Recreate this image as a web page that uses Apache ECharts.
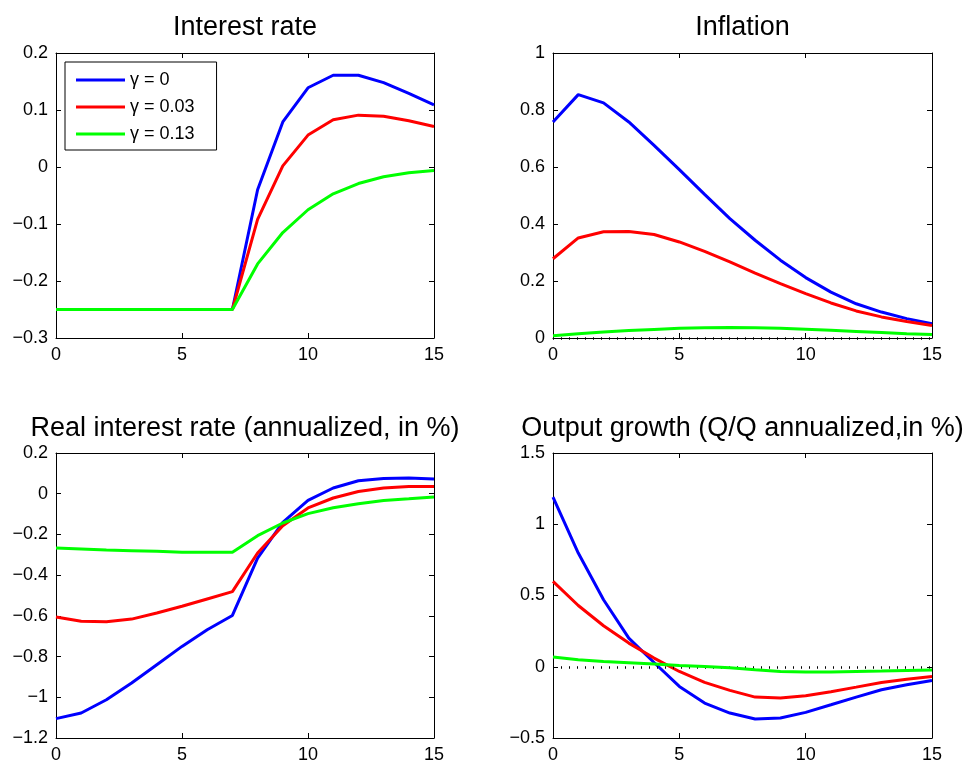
<!DOCTYPE html>
<html>
<head>
<meta charset="utf-8">
<script src="https://cdn.jsdelivr.net/npm/echarts@6/dist/echarts.min.js"></script>
<style>
html,body{margin:0;padding:0;background:#fff;}
#chart{width:969px;height:765px;}
</style>
</head>
<body>
<div id="chart"></div>
<script>
// ---- Data ----
const periods = [0,1,2,3,4,5,6,7,8,9,10,11,12,13,14,15];
const seriesNames = ['\u03B3 = 0', '\u03B3 = 0.03', '\u03B3 = 0.13'];
const seriesColors = ['#0000ff', '#ff0000', '#00ff00'];
const panelTitles = ['Interest rate', 'Inflation', 'Real interest rate (annualized, in %)', 'Output growth (Q/Q annualized,in %)'];

const interestG0   = [-0.25,-0.25,-0.25,-0.25,-0.25,-0.25,-0.25,-0.25,-0.040,0.079,0.139,0.161,0.161,0.148,0.129,0.109];
const interestG003 = [-0.25,-0.25,-0.25,-0.25,-0.25,-0.25,-0.25,-0.25,-0.092,0.002,0.056,0.083,0.091,0.089,0.081,0.071];
const interestG013 = [-0.25,-0.25,-0.25,-0.25,-0.25,-0.25,-0.25,-0.25,-0.170,-0.115,-0.075,-0.047,-0.029,-0.017,-0.010,-0.006];

const inflationG0   = [0.758,0.854,0.825,0.758,0.676,0.591,0.504,0.419,0.343,0.273,0.212,0.161,0.120,0.091,0.068,0.050];
const inflationG003 = [0.278,0.351,0.373,0.374,0.363,0.337,0.304,0.267,0.228,0.191,0.156,0.123,0.095,0.074,0.058,0.044];
const inflationG013 = [0.008,0.015,0.021,0.026,0.030,0.034,0.036,0.037,0.036,0.034,0.031,0.027,0.023,0.019,0.015,0.012];

const realRateG0   = [-1.105,-1.077,-1.012,-0.930,-0.840,-0.750,-0.668,-0.598,-0.316,-0.141,-0.033,0.028,0.064,0.075,0.077,0.072];
const realRateG003 = [-0.606,-0.627,-0.629,-0.616,-0.586,-0.553,-0.517,-0.481,-0.291,-0.157,-0.070,-0.021,0.011,0.028,0.036,0.036];
const realRateG013 = [-0.267,-0.272,-0.277,-0.280,-0.283,-0.287,-0.288,-0.288,-0.206,-0.144,-0.098,-0.069,-0.049,-0.033,-0.025,-0.016];

const outputG0   = [1.190,0.798,0.470,0.201,0.030,-0.138,-0.255,-0.325,-0.367,-0.360,-0.320,-0.267,-0.213,-0.161,-0.126,-0.096];
const outputG003 = [0.599,0.430,0.288,0.166,0.061,-0.033,-0.110,-0.166,-0.213,-0.220,-0.204,-0.175,-0.143,-0.110,-0.087,-0.068];
const outputG013 = [0.068,0.049,0.037,0.028,0.019,0.009,0.002,-0.007,-0.021,-0.033,-0.037,-0.037,-0.033,-0.030,-0.026,-0.023];

const xTicks = {min: 0, max: 15, interval: 5};
const yTicks = [
  {min: -0.3, max: 0.2, interval: 0.1},
  {min: 0, max: 1, interval: 0.2},
  {min: -1.2, max: 0.2, interval: 0.2},
  {min: -0.5, max: 1.5, interval: 0.5}
];
const panelData = [
  [interestG0, interestG003, interestG013],
  [inflationG0, inflationG003, inflationG013],
  [realRateG0, realRateG003, realRateG013],
  [outputG0, outputG003, outputG013]
];
const zeroLinePanels = [1, 3];

// ---- Layout ----
const FONT = '"Liberation Sans", Arial, Helvetica, sans-serif';
const grids = [
  {left: 56, top: 53, width: 378, height: 285},
  {left: 553, top: 53, width: 379, height: 285},
  {left: 56, top: 453, width: 378, height: 285},
  {left: 553, top: 453, width: 379, height: 285}
];
const titleTops = [13, 13, 414, 414];

function fmt(v) {
  const s = String(+(+v).toFixed(2));
  return s.replace('-', '\u2212');
}

const xAxes = [], yAxes = [], series = [], titles = [];
grids.forEach((g, i) => {
  const axLine = {show: true, onZero: false, lineStyle: {color: '#000', width: 1}};
  const tick = {show: true, inside: true, length: 5, lineStyle: {color: '#000', width: 1}};
  xAxes.push({type: 'value', gridIndex: i, position: 'bottom', min: xTicks.min, max: xTicks.max, interval: xTicks.interval,
    axisLine: axLine, axisTick: tick, splitLine: {show: false},
    axisLabel: {color: '#000', fontSize: 18, fontFamily: FONT, margin: 8, formatter: fmt}});
  xAxes.push({type: 'value', gridIndex: i, position: 'top', min: xTicks.min, max: xTicks.max, interval: xTicks.interval,
    axisLine: axLine, axisTick: tick, splitLine: {show: false}, axisLabel: {show: false}});
  const yt = yTicks[i];
  yAxes.push({type: 'value', gridIndex: i, position: 'left', min: yt.min, max: yt.max, interval: yt.interval,
    axisLine: axLine, axisTick: tick, splitLine: {show: false},
    axisLabel: {color: '#000', fontSize: 18, fontFamily: FONT, margin: 8, formatter: fmt}});
  yAxes.push({type: 'value', gridIndex: i, position: 'right', min: yt.min, max: yt.max, interval: yt.interval,
    axisLine: axLine, axisTick: tick, splitLine: {show: false}, axisLabel: {show: false}});

  titles.push({text: panelTitles[i], left: g.left + g.width / 2, top: titleTops[i], textAlign: 'center', padding: 0,
    textStyle: {color: '#000', fontSize: 27, fontWeight: 'normal', fontFamily: FONT, lineHeight: 30}});

  panelData[i].forEach((vals, k) => {
    const s = {
      name: seriesNames[k], type: 'line', xAxisIndex: 2 * i, yAxisIndex: 2 * i,
      data: periods.map((p, j) => [p, vals[j]]),
      showSymbol: false, symbol: 'none', smooth: false, animation: false,
      lineStyle: {color: seriesColors[k], width: 3}, itemStyle: {color: seriesColors[k]},
      z: 3 + k
    };
    if (k === 0 && zeroLinePanels.includes(i)) {
      s.markLine = {silent: true, symbol: 'none', animation: false, label: {show: false},
        lineStyle: {color: '#000', width: 2.5, type: [1, 7]},
        data: [{yAxis: 0}]};
    }
    series.push(s);
  });
});

const chart = echarts.init(document.getElementById('chart'), null, {renderer: 'canvas'});
chart.setOption({
  backgroundColor: '#fff',
  animation: false,
  title: titles,
  grid: grids,
  xAxis: xAxes,
  yAxis: yAxes,
  legend: {
    data: seriesNames, orient: 'vertical', left: 65, top: 62,
    icon: 'rect', itemWidth: 49, itemHeight: 3, itemGap: 7,
    backgroundColor: '#fff', borderColor: '#000', borderWidth: 1,
    padding: [8, 22, 6, 11],
    textStyle: {color: '#000', fontSize: 18, fontFamily: FONT, lineHeight: 20},
    selectedMode: false
  },
  series: series
});
</script>
</body>
</html>
